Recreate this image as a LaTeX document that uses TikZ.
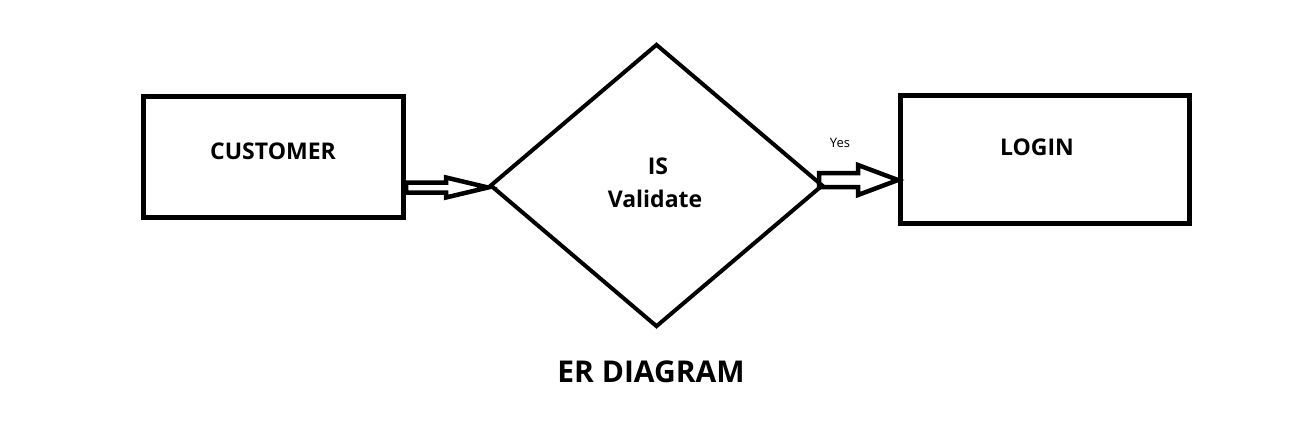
\documentclass[tikz,border=0pt]{standalone}
\usepackage{fontspec}
\setmainfont{Open Sans}
\usetikzlibrary{shapes.geometric,calc}
\tikzset{
  entitybox/.style={draw=black, line width=5pt, rectangle, inner sep=0pt},
  decisionbox/.style={draw=black, line width=4pt, diamond, inner sep=0pt},
  hollowarrow/.style={draw=black, line width=4.5pt, line join=miter},
  boldtext/.style={font=\bfseries\fontsize{23}{27}\selectfont, inner sep=0pt},
}
\begin{document}
\begin{tikzpicture}[x=1pt,y=-1pt]
\useasboundingbox (0,0) rectangle (1301,428);
\fill[white] (0,0) rectangle (1301,428);

\node[entitybox, minimum width=260pt, minimum height=121pt] (cust) at (273.5,157) {};
\node[decisionbox, minimum width=333pt, minimum height=283pt] (dec) at (656.5,185.5) {};
\node[entitybox, minimum width=289pt, minimum height=128pt] (login) at (1045,159.5) {};

\node[boldtext] (custtext) at (273,151) {CUSTOMER};
\node[boldtext] (istext) at (658,166) {IS};
\node[boldtext] (valtext) at (655,199) {Validate};
\node[boldtext] (logintext) at (1037,147) {LOGIN};
\node[font=\fontsize{13}{15}\selectfont, inner sep=0pt] (yes) at (840,143) {Yes};
\node[font=\bfseries\fontsize{30}{34}\selectfont, inner sep=0pt] (title) at (651,372) {ER DIAGRAM};

% arrow customer -> decision
\coordinate (t1) at ($(dec.west)+(0,2)$);
\path (t1) ++(-42,-5) coordinate (h1u) ++(0,10) coordinate (h1d);
\draw[hollowarrow] (t1) -- ++(-42,-10) -- (h1u) -- (cust.east |- h1u)
  -- (cust.east |- h1d) -- (h1d) -- ++(0,5) -- cycle;

% arrow decision -> login
\coordinate (t2) at (login.west |- 0,180);
\coordinate (s2) at ($(dec.east)+(-6,0)$);
\path (t2) ++(-40,-7) coordinate (h2u) ++(0,14) coordinate (h2d);
\draw[hollowarrow] (t2) -- ++(-40,-15) -- (h2u) -- (s2 |- h2u)
  -- (s2 |- h2d) -- (h2d) -- ++(0,8) -- cycle;
\end{tikzpicture}
\end{document}
